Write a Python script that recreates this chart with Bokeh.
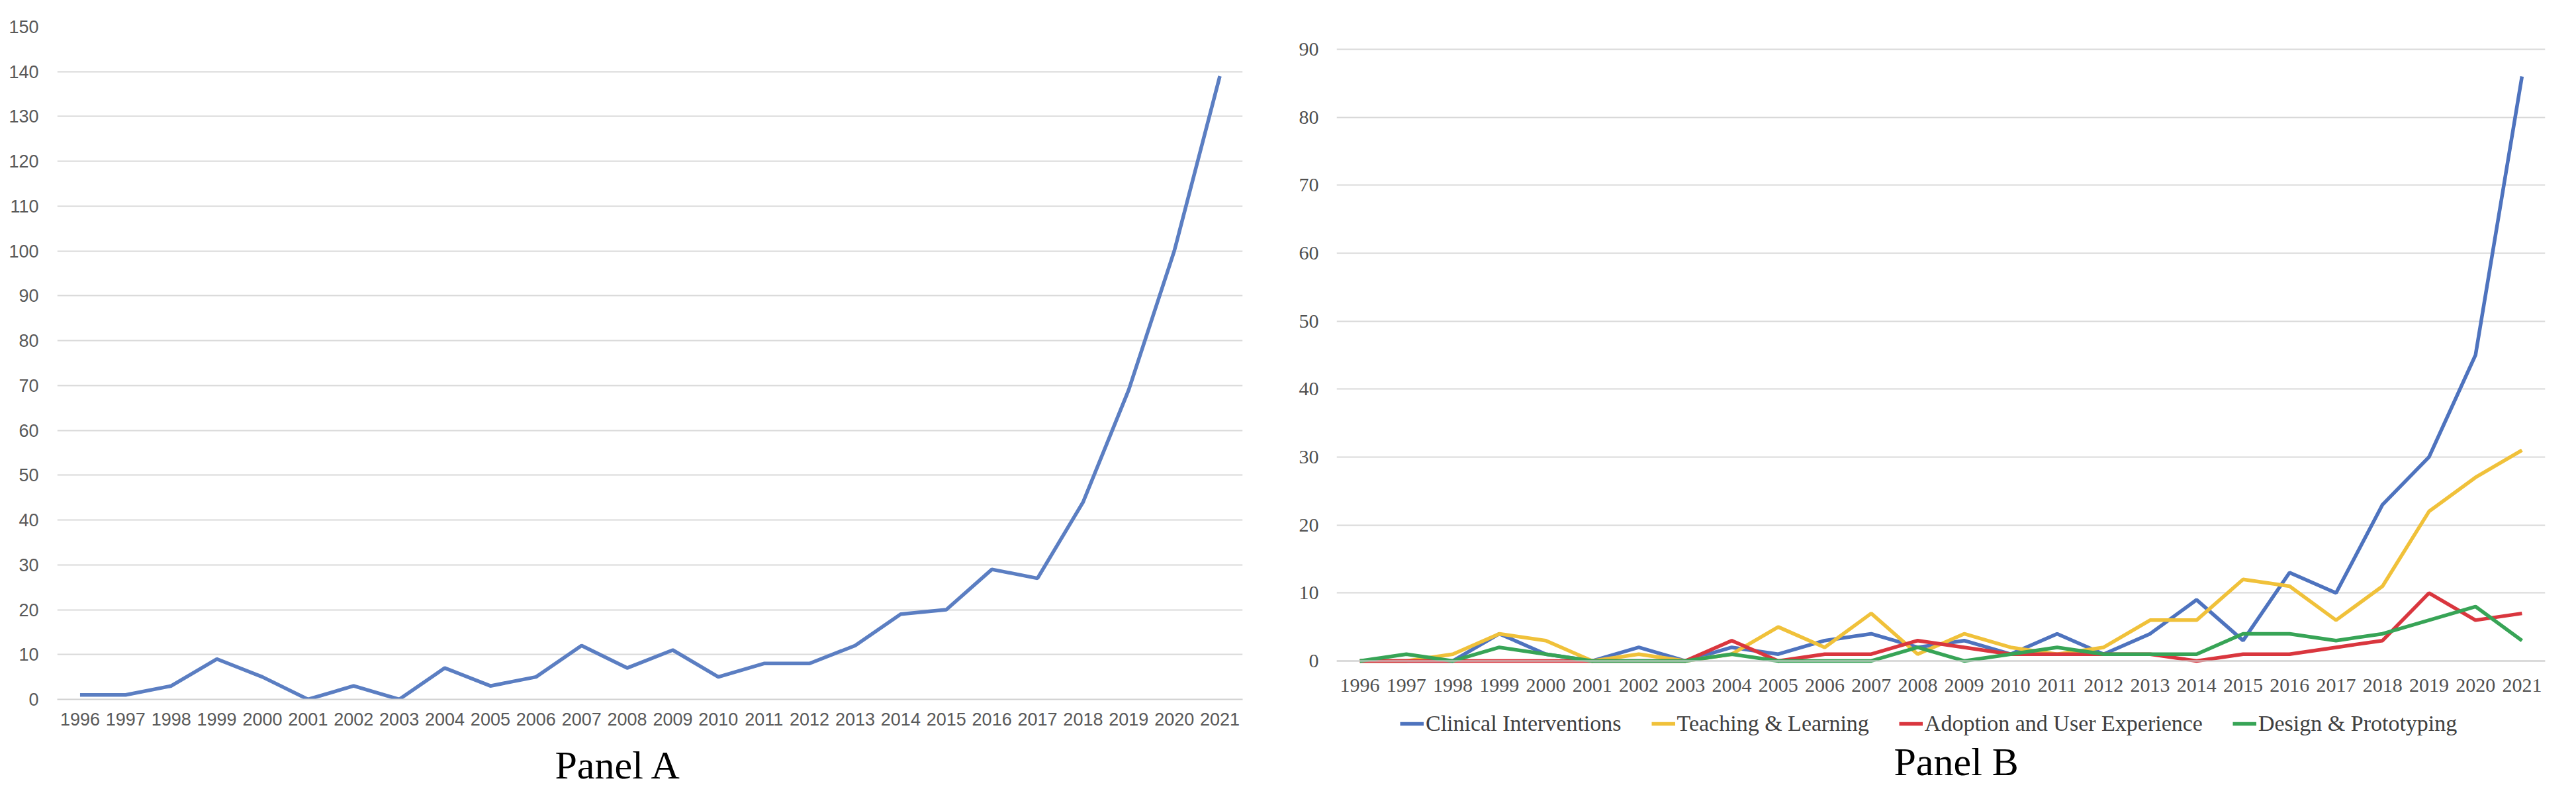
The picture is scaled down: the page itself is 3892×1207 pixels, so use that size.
from bokeh.plotting import figure
from bokeh.models import (FactorRange, Range1d, FixedTicker, Legend, LegendItem,
                          Title, CategoricalAxis)
from bokeh.layouts import row
from bokeh.embed import file_html
from bokeh.resources import INLINE

# ---------------- data ----------------
years = ["1996", "1997", "1998", "1999", "2000", "2001", "2002", "2003", "2004",
         "2005", "2006", "2007", "2008", "2009", "2010", "2011", "2012", "2013",
         "2014", "2015", "2016", "2017", "2018", "2019", "2020", "2021"]

total_publications = [1, 1, 3, 9, 5, 0, 3, 0, 7, 3, 5, 12, 7, 11, 5, 8, 8, 12,
                      19, 20, 29, 27, 44, 69, 100, 139]

clinical_interventions = [0, 0, 0, 4, 1, 0, 2, 0, 2, 1, 3, 4, 2, 3, 1, 4, 1, 4,
                          9, 3, 13, 10, 23, 30, 45, 86]
teaching_learning = [0, 0, 1, 4, 3, 0, 1, 0, 1, 5, 2, 7, 1, 4, 2, 1, 2, 6,
                     6, 12, 11, 6, 11, 22, 27, 31]
adoption_user_experience = [0, 0, 0, 0, 0, 0, 0, 0, 3, 0, 1, 1, 3, 2, 1, 1, 1, 1,
                            0, 1, 1, 2, 3, 10, 6, 7]
design_prototyping = [0, 1, 0, 2, 1, 0, 0, 0, 1, 0, 0, 0, 2, 0, 1, 2, 1, 1,
                      1, 4, 4, 3, 4, 6, 8, 3]

series_names = ["Clinical Interventions", "Teaching & Learning",
                "Adoption and User Experience", "Design & Prototyping"]
series_values = [clinical_interventions, teaching_learning,
                 adoption_user_experience, design_prototyping]
series_colors = ["#4E73BE", "#F0C13A", "#D9363E", "#37A456"]

yticks_a = [0, 10, 20, 30, 40, 50, 60, 70, 80, 90, 100, 110, 120, 130, 140, 150]
yticks_b = [0, 10, 20, 30, 40, 50, 60, 70, 80, 90]

GRID = "#D9D9D9"
SANS = "Liberation Sans"
SERIF = "Liberation Serif"


def style_axis(ax, font, size, color, stand):
    ax.major_tick_in = 0
    ax.major_tick_out = 0
    ax.minor_tick_in = 0
    ax.minor_tick_out = 0
    ax.major_label_text_font = font
    ax.major_label_text_font_size = size
    ax.major_label_text_color = color
    ax.major_label_standoff = stand


def style_plot(p, ticks):
    p.outline_line_color = None
    p.background_fill_color = "white"
    p.border_fill_color = "white"
    p.xgrid.visible = False
    p.ygrid.grid_line_color = GRID
    p.ygrid.grid_line_width = 2
    p.yaxis.ticker = FixedTicker(ticks=ticks)
    p.yaxis.axis_line_color = None


# ---------------- Panel A ----------------
pA = figure(frame_width=1791, frame_height=1016, x_range=FactorRange(factors=years),
            y_range=Range1d(0, 150), output_backend="svg", toolbar_location=None,
            min_border_left=86, min_border_right=73,
            min_border_top=40, min_border_bottom=130)
style_plot(pA, yticks_a)
style_axis(pA.xaxis[0], SANS, "27px", "#595959", 20)
style_axis(pA.yaxis[0], SANS, "27px", "#595959", 28)
pA.xaxis.axis_line_color = "#D0D0D0"
pA.xaxis.axis_line_width = 2
pA.line(x=years, y=total_publications, line_color="#5B7EC2", line_width=5.5)
pA.add_layout(Title(text="Panel A", align="left", offset=752, text_font=SERIF,
                    text_font_size="60px", text_font_style="normal",
                    text_color="black", standoff=44), "below")

# ---------------- Panel B ----------------
# The frame reaches below the zero line so that the year axis (fixed at y=0)
# and the legend sit inside it; the title goes in the panel below.
pB = figure(frame_width=1826, frame_height=1074, x_range=FactorRange(factors=years),
            y_range=Range1d(-11.3, 93.3), output_backend="svg",
            toolbar_location=None, x_axis_location=None,
            min_border_left=69, min_border_right=31,
            min_border_top=40, min_border_bottom=76)
style_plot(pB, yticks_b)
style_axis(pB.yaxis[0], SERIF, "30px", "#505050", 27)

year_axis = CategoricalAxis(fixed_location=0, axis_line_color="#D0D0D0",
                            axis_line_width=2)
style_axis(year_axis, SERIF, "30px", "#505050", 28)
pB.add_layout(year_axis, "below")

items = []
for name, vals, col in zip(series_names, series_values, series_colors):
    r = pB.line(x=years, y=vals, line_color=col, line_width=5.5)
    items.append(LegendItem(label=name, renderers=[r]))

leg = Legend(items=items, orientation="horizontal", location=(96, 2),
             border_line_color=None, background_fill_alpha=0,
             label_text_font=SERIF, label_text_font_size="34px",
             label_text_color="#404040", glyph_width=36, glyph_height=20,
             label_standoff=3, spacing=45, padding=4, margin=0)
pB.add_layout(leg, "center")
pB.add_layout(Title(text="Panel B", align="left", offset=842, text_font=SERIF,
                    text_font_size="60px", text_font_style="normal",
                    text_color="black", standoff=2), "below")

layout = row(pA, pB)
open("out.html", "w").write(file_html(layout, INLINE))
